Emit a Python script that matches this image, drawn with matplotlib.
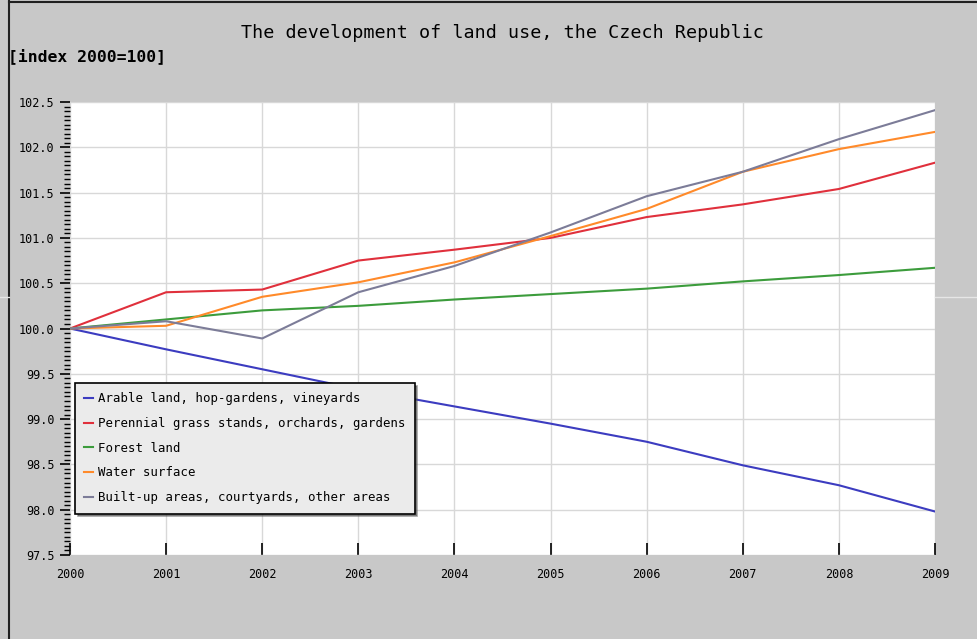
import matplotlib
matplotlib.use('Agg')
import matplotlib.pyplot as plt
from matplotlib.lines import Line2D
from matplotlib.ticker import MultipleLocator

plt.rcParams['font.family'] = ['DejaVu Sans Mono', 'DejaVu Sans']

years = [2000, 2001, 2002, 2003, 2004, 2005, 2006, 2007, 2008, 2009]

arable = [100.0, 99.77, 99.55, 99.33, 99.14, 98.95, 98.75, 98.49, 98.27, 97.98]
perennial = [100.0, 100.40, 100.43, 100.75, 100.87, 101.00, 101.23, 101.37, 101.54, 101.83]
forest = [100.0, 100.10, 100.20, 100.25, 100.32, 100.38, 100.44, 100.52, 100.59, 100.67]
water = [100.0, 100.03, 100.35, 100.51, 100.73, 101.02, 101.32, 101.73, 101.98, 102.17]
builtup = [100.0, 100.08, 99.89, 100.40, 100.69, 101.06, 101.46, 101.73, 102.09, 102.41]

labels = ['Arable land, hop-gardens, vineyards',
          'Perennial grass stands, orchards, gardens',
          'Forest land',
          'Water surface',
          'Built-up areas, courtyards, other areas']
colors = ['#3c3cc0', '#e0303c', '#3c9c3c', '#ff8a2a', '#7c7c98']

bg = '#c8c8c8'

fig = plt.figure(figsize=(9.78, 6.39), dpi=100, facecolor=bg)
ax = fig.add_axes([70 / 978, 1 - 555 / 639, 865 / 978, 453 / 639])
ax.set_facecolor('white')

for series, lab, col in zip([arable, perennial, forest, water, builtup], labels, colors):
    ax.plot(years, series, color=col, lw=1.5, label=lab)

ax.set_xlim(2000, 2009)
ax.set_ylim(97.5, 102.5)
ax.set_xticks(years)
ax.set_xticklabels([str(y) for y in years])
ax.yaxis.set_major_locator(MultipleLocator(0.5))
ax.yaxis.set_minor_locator(MultipleLocator(0.05))
ax.yaxis.set_major_formatter(matplotlib.ticker.FormatStrFormatter('%.1f'))
ax.grid(True, color='#d8d8d8', lw=1)
ax.set_axisbelow(True)
for s in ax.spines.values():
    s.set_visible(False)
ax.tick_params(axis='y', which='major', length=7, width=1.2, color='black',
               labelsize=8.5, pad=4)
ax.tick_params(axis='y', which='minor', length=4, width=1, color='black')
ax.tick_params(axis='x', which='major', direction='in', length=9, width=1.2,
               color='black', labelsize=8.5, pad=9)

leg = ax.legend(loc='upper left', bbox_to_anchor=(75 / 978, 1 - 383 / 639),
                bbox_transform=fig.transFigure, borderaxespad=0,
                fontsize=8.9, handlelength=0.7, handletextpad=0.4,
                labelspacing=0.95, borderpad=0.75, fancybox=False,
                shadow=True, framealpha=1, facecolor='#ebebeb',
                edgecolor='black')
leg.get_frame().set_linewidth(1.2)

fig.text(502 / 978, 1 - 33 / 639, 'The development of land use, the Czech Republic',
         ha='center', va='center', fontsize=13.2)
fig.text(8 / 978, 1 - 56 / 639, '[index 2000=100]', ha='left', va='center',
         fontsize=11.8, fontweight='bold')

# frame lines of the original screenshot
fig.add_artist(Line2D([9 / 978, 9 / 978], [0, 1], transform=fig.transFigure,
                      color='#202020', lw=1.5))
fig.add_artist(Line2D([9 / 978, 1], [1 - 1.5 / 639, 1 - 1.5 / 639],
                      transform=fig.transFigure, color='#202020', lw=1.5))
fig.add_artist(Line2D([0, 9 / 978], [1 - 297 / 639, 1 - 297 / 639],
                      transform=fig.transFigure, color='#e6e6e6', lw=1))
fig.add_artist(Line2D([935 / 978, 1], [1 - 297 / 639, 1 - 297 / 639],
                      transform=fig.transFigure, color='#e6e6e6', lw=1))

fig.savefig('out.png', dpi=100, facecolor=bg)
